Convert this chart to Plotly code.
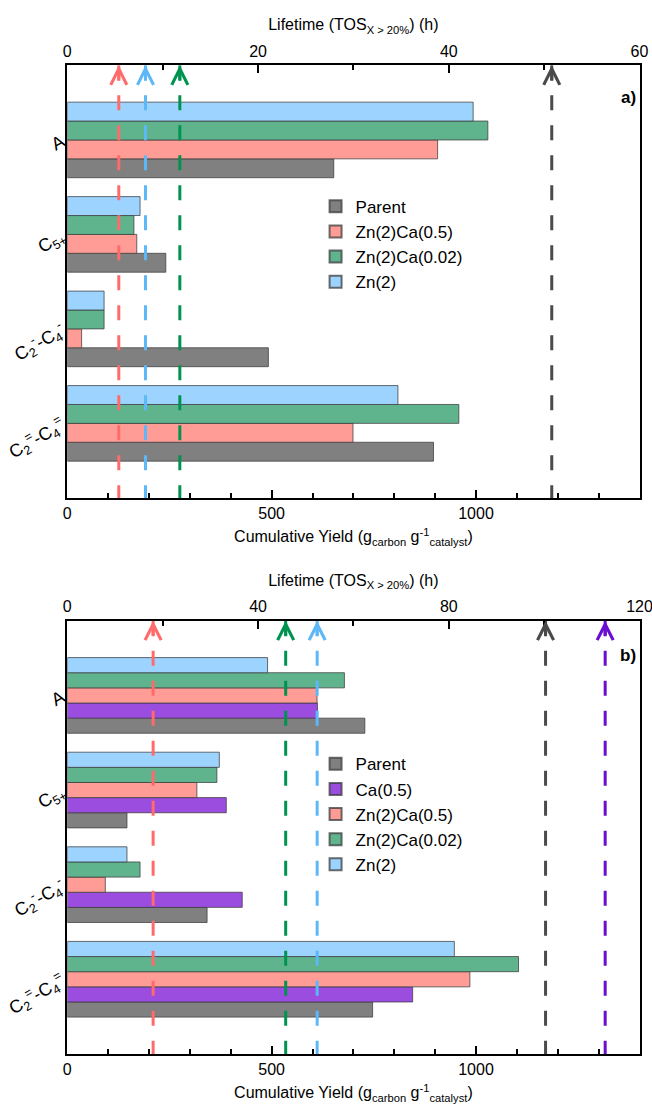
import plotly.graph_objects as go

# ---------------- data ----------------
categories = ["C<sub>2</sub><sup>=</sup>-C<sub>4</sub><sup>=</sup>",
              "C<sub>2</sub><sup>-</sup>-C<sub>4</sub><sup>-</sup>",
              "C<sub>5+</sub>", "A"]
cat_pos = [0, 1, 2, 3]

# panel a) cumulative yield (g_carbon / g_catalyst)
series_a_names = ["Parent", "Zn(2)Ca(0.5)", "Zn(2)Ca(0.02)", "Zn(2)"]
parent_a = [896, 492, 241, 652]
zn2ca05_a = [699, 35, 170, 906]
zn2ca002_a = [958, 90, 163, 1029]
zn2_a = [809, 90, 178, 993]
lifetime_a = [50.8, 5.4, 11.8, 8.2]  # h, same order as series_a_names

# panel b)
series_b_names = ["Parent", "Ca(0.5)", "Zn(2)Ca(0.5)", "Zn(2)Ca(0.02)", "Zn(2)"]
parent_b = [747, 342, 146, 728]
ca05_b = [845, 428, 389, 612]
zn2ca05_b = [985, 93, 317, 611]
zn2ca002_b = [1104, 178, 366, 678]
zn2_b = [947, 146, 372, 490]
lifetime_b = [100.3, 112.8, 18.0, 45.8, 52.4]

bar_colors = {"Parent": "#808080", "Ca(0.5)": "#9b4de0", "Zn(2)Ca(0.5)": "#ff9c96",
              "Zn(2)Ca(0.02)": "#5fb48e", "Zn(2)": "#9dd3ff"}
line_colors = {"Parent": "#4a4a4a", "Ca(0.5)": "#6a0dcf", "Zn(2)Ca(0.5)": "#ff6b6b",
               "Zn(2)Ca(0.02)": "#00934f", "Zn(2)": "#5cb8f7"}

FONT = "Liberation Sans, Arial, sans-serif"
YR = [-0.79, 3.79]

fig = go.Figure()

def add_panel(names, values, lifetimes, xa, xa_top, ya, legend):
    for n, v in zip(names, values):
        fig.add_trace(go.Bar(
            y=cat_pos, x=v, orientation="h", name=n,
            marker=dict(color=bar_colors[n], line=dict(color="rgba(60,60,60,0.75)", width=1)),
            xaxis=xa, yaxis=ya, legend=legend))
    for n, t in zip(names, lifetimes):
        fig.add_trace(go.Scatter(
            x=[t, t], y=[YR[1], YR[0]], mode="lines",
            line=dict(color=line_colors[n], width=3, dash="15px,15px"),
            xaxis=xa_top, yaxis=ya, showlegend=False, hoverinfo="skip"))
        fig.add_annotation(x=t, y=YR[1], xref=xa_top, yref=ya, text="",
                           showarrow=True, ax=0, ay=17, axref="pixel", ayref="pixel",
                           arrowhead=5, arrowsize=1.05, arrowwidth=3,
                           arrowcolor=line_colors[n], standoff=0)

add_panel(series_a_names, [parent_a, zn2ca05_a, zn2ca002_a, zn2_a], lifetime_a,
          "x", "x2", "y", "legend")
add_panel(series_b_names, [parent_b, ca05_b, zn2ca05_b, zn2ca002_b, zn2_b], lifetime_b,
          "x3", "x4", "y2", "legend2")

H, W = 1104, 652
xdom = [67.3 / W, 639.5 / W]
dom_a = [1 - 498 / H, 1 - 65.3 / H]
dom_b = [1 - 1054 / H, 1 - 620.7 / H]

tickf = dict(family=FONT, size=16, color="black")
ytickf = dict(family=FONT, size=18, color="black")
titlef = dict(family=FONT, size=16, color="black")
ytitle_yield = "Cumulative Yield (g<sub>carbon</sub> g<sup>-1</sup><sub>catalyst</sub>)"
xtitle_life = "Lifetime (TOS<sub>X &gt; 20%</sub>) (h)"

def xbottom(dom_anchor):
    return dict(domain=xdom, anchor=dom_anchor, range=[0, 1400], tickvals=[0, 500, 1000],
                ticks="inside", ticklen=8, tickwidth=1.5, tickcolor="black",
                minor=dict(dtick=100, tick0=0, ticks="inside", ticklen=5, tickwidth=1.5, tickcolor="black"),
                showline=True, linecolor="black", linewidth=2, mirror=False,
                showgrid=False, zeroline=False, tickfont=tickf, automargin=False,
                ticklabeloverflow="allow",
                title=dict(text=ytitle_yield, font=titlef, standoff=10))

def xtop(over, anchor, rmax, dt):
    return dict(overlaying=over, anchor=anchor, side="top", range=[0, rmax], dtick=dt, tick0=0,
                ticks="inside", ticklen=8, tickwidth=1.5, tickcolor="black",
                minor=dict(dtick=dt / 2, tick0=0, ticks="inside", ticklen=5, tickwidth=1.5, tickcolor="black"),
                showline=True, linecolor="black", linewidth=2, automargin=False,
                ticklabeloverflow="allow",
                showgrid=False, zeroline=False, tickfont=tickf,
                title=dict(text=xtitle_life, font=titlef, standoff=8))

def yax(dom, anchor):
    return dict(domain=dom, anchor=anchor, range=YR, tickvals=cat_pos, ticktext=categories,
                ticks="", tickangle=-30, tickfont=ytickf, automargin=False,
                ticklabeloverflow="allow",
                showline=True, linecolor="black", linewidth=2, mirror=True,
                showgrid=False, zeroline=False)

fig.update_layout(
    width=W, height=H, margin=dict(l=0, r=0, t=0, b=0, autoexpand=False),
    paper_bgcolor="white", plot_bgcolor="white",
    barmode="group", bargap=0.2, bargroupgap=0,
    font=dict(family=FONT, color="black"),
    xaxis=xbottom("y"),
    xaxis2=xtop("x", "y", 60, 20),
    yaxis=yax(dom_a, "x"),
    xaxis3=xbottom("y2"),
    xaxis4=xtop("x3", "y2", 120, 40),
    yaxis2=yax(dom_b, "x3"),
    legend=dict(x=0.484, y=0.829, xanchor="left", yanchor="top", traceorder="normal",
                font=dict(family=FONT, size=17, color="black"), bgcolor="rgba(0,0,0,0)",
                tracegroupgap=0, itemsizing="constant"),
    legend2=dict(x=0.484, y=0.324, xanchor="left", yanchor="top", traceorder="normal",
                 font=dict(family=FONT, size=17, color="black"), bgcolor="rgba(0,0,0,0)",
                 tracegroupgap=0, itemsizing="constant"),
    showlegend=True,
)

fig.add_annotation(x=0.978, y=1 - 97 / H, xref="paper", yref="paper", text="<b>a)</b>",
                   showarrow=False, xanchor="right", yanchor="middle",
                   font=dict(family=FONT, size=17, color="black"))
fig.add_annotation(x=0.978, y=1 - 655 / H, xref="paper", yref="paper", text="<b>b)</b>",
                   showarrow=False, xanchor="right", yanchor="middle",
                   font=dict(family=FONT, size=17, color="black"))

fig.write_html("out.html")
